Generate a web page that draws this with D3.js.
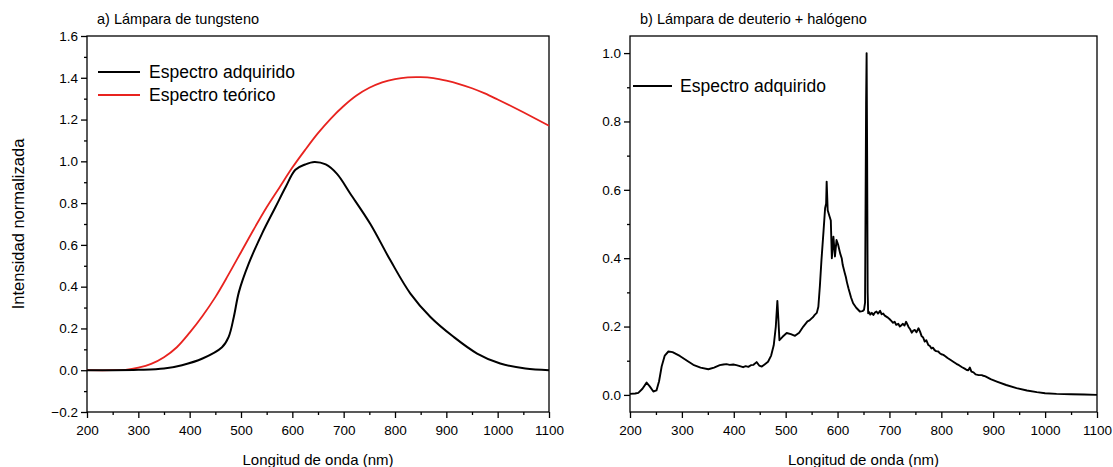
<!DOCTYPE html>
<html>
<head>
<meta charset="utf-8">
<script src="https://cdn.jsdelivr.net/npm/d3@7"></script>
<style>
  body { margin: 0; background: #fff; }
  svg { font-family: "Liberation Sans", Arial, sans-serif; }
  .frame { fill: none; stroke: #000; stroke-width: 1.3; }
  .axis path { display: none; }
  .axis line { stroke: #000; stroke-width: 1.3; }
  .axis text { font-size: 13.5px; fill: #000; }
</style>
</head>
<body>
<script>
const width = 1113, height = 467;

// a) tungsten lamp
const tungX = [200, 250, 300, 350, 385, 425, 463, 476, 486, 496, 515, 541, 567, 587, 606, 625, 643, 665, 687, 713, 752, 791, 830, 869, 914, 960, 1005, 1054, 1100];
const tungY = [0, 0, 0.002, 0.008, 0.024, 0.056, 0.11, 0.16, 0.255, 0.375, 0.51, 0.654, 0.78, 0.877, 0.96, 0.985, 0.997, 0.985, 0.94, 0.845, 0.70, 0.526, 0.367, 0.255, 0.16, 0.08, 0.032, 0.008, 0.0];
const theoX = [200, 250, 275, 300, 325, 350, 375, 400, 425, 450, 475, 500, 525, 550, 575, 600, 625, 650, 675, 700, 725, 750, 775, 800, 825, 850, 875, 900, 925, 950, 975, 1000, 1025, 1050, 1075, 1100];
const theoY = [0, 0, 0.002, 0.012, 0.03, 0.062, 0.11, 0.18, 0.26, 0.35, 0.455, 0.565, 0.675, 0.78, 0.875, 0.97, 1.055, 1.135, 1.205, 1.265, 1.315, 1.352, 1.378, 1.394, 1.402, 1.403, 1.398, 1.386, 1.37, 1.35, 1.325, 1.296, 1.266, 1.235, 1.203, 1.17];

// b) deuterium + halogen lamp
const d2X = [200, 210, 216, 224, 232, 238, 245, 251, 256, 261, 267, 274, 282, 296, 310, 322, 336, 351, 362, 373, 380, 386, 392, 399, 405, 410, 418, 423, 428, 433, 438, 444, 449, 454, 460, 466, 472, 477, 481, 484, 486, 488, 494, 502, 510, 518, 526, 534, 542, 546, 550, 553, 556, 560, 563, 566, 569, 573, 576, 578, 579, 581, 584, 587, 589, 592, 595, 598, 601, 605, 608, 610, 614, 616, 618, 621, 626, 630, 636, 643, 648, 651, 653, 655, 656, 657, 658, 659, 661, 663, 666, 669, 672, 675, 678, 682, 685, 688, 691, 694, 697, 700, 704, 707, 710, 713, 717, 720, 723, 726, 729, 732, 735, 737, 740, 743, 746, 749, 752, 756, 759, 762, 765, 768, 771, 775, 778, 781, 784, 787, 790, 794, 797, 800, 804, 807, 812, 818, 823, 829, 834, 840, 845, 849, 852, 855, 858, 862, 866, 872, 878, 881, 885, 895, 907, 925, 945, 965, 984, 1000, 1022, 1050, 1075, 1100];
const d2Y = [0.003, 0.004, 0.006, 0.018, 0.036, 0.025, 0.010, 0.013, 0.04, 0.083, 0.115, 0.127, 0.125, 0.114, 0.100, 0.088, 0.080, 0.075, 0.080, 0.087, 0.089, 0.090, 0.088, 0.089, 0.087, 0.085, 0.081, 0.084, 0.082, 0.087, 0.088, 0.096, 0.086, 0.083, 0.090, 0.097, 0.115, 0.145, 0.20, 0.275, 0.22, 0.16, 0.17, 0.181, 0.178, 0.173, 0.182, 0.200, 0.215, 0.218, 0.224, 0.228, 0.234, 0.24, 0.258, 0.32, 0.395, 0.48, 0.546, 0.56, 0.624, 0.54, 0.525, 0.51, 0.40, 0.463, 0.405, 0.453, 0.44, 0.414, 0.40, 0.38, 0.356, 0.345, 0.33, 0.312, 0.285, 0.268, 0.255, 0.244, 0.245, 0.249, 0.27, 0.85, 1.0, 0.70, 0.30, 0.239, 0.242, 0.235, 0.240, 0.234, 0.241, 0.244, 0.238, 0.246, 0.236, 0.238, 0.232, 0.229, 0.226, 0.222, 0.216, 0.211, 0.214, 0.205, 0.208, 0.200, 0.204, 0.208, 0.203, 0.214, 0.205, 0.198, 0.192, 0.182, 0.188, 0.190, 0.183, 0.195, 0.185, 0.172, 0.168, 0.156, 0.160, 0.146, 0.143, 0.136, 0.138, 0.131, 0.128, 0.127, 0.122, 0.119, 0.117, 0.114, 0.108, 0.102, 0.097, 0.091, 0.087, 0.081, 0.077, 0.073, 0.072, 0.080, 0.068, 0.066, 0.060, 0.058, 0.058, 0.056, 0.054, 0.046, 0.039, 0.029, 0.020, 0.013, 0.008, 0.005, 0.003, 0.002, 0.001, 0.0];

const xTicks = [200, 300, 400, 500, 600, 700, 800, 900, 1000, 1100];

const svg = d3.select("body").append("svg")
  .attr("width", width)
  .attr("height", height);

function panel(opt) {
  const x = d3.scaleLinear().domain([200, 1100]).range([opt.left, opt.right]);
  const y = d3.scaleLinear().domain(opt.yDomain).range([412, 36]);
  const g = svg.append("g");

  g.append("rect").attr("class", "frame")
    .attr("x", opt.left).attr("y", 36)
    .attr("width", opt.right - opt.left).attr("height", 376);

  // minor ticks
  g.append("g").attr("class", "axis")
    .attr("transform", `translate(0,412)`)
    .call(d3.axisBottom(x).tickValues(d3.range(250, 1100, 100)).tickSize(3).tickFormat(""));
  g.append("g").attr("class", "axis")
    .attr("transform", `translate(${opt.left},0)`)
    .call(d3.axisLeft(y).tickValues(opt.yMinor).tickSize(3).tickFormat(""));

  // major ticks
  g.append("g").attr("class", "axis")
    .attr("transform", `translate(0,412)`)
    .call(d3.axisBottom(x).tickValues(xTicks).tickSize(6).tickPadding(7).tickFormat(d3.format("d")));
  g.append("g").attr("class", "axis")
    .attr("transform", `translate(${opt.left},0)`)
    .call(d3.axisLeft(y).tickValues(opt.yMajor).tickSize(6).tickPadding(3).tickFormat(d3.format(".1f")));

  g.append("text")
    .attr("x", (opt.left + opt.right) / 2).attr("y", 465)
    .attr("text-anchor", "middle").attr("font-size", 15)
    .text("Longitud de onda (nm)");

  g.append("text")
    .attr("x", opt.left + 10).attr("y", 24)
    .attr("font-size", 14.5)
    .text(opt.title);

  return { g, x, y };
}

const a = panel({
  left: 87, right: 549, yDomain: [-0.2, 1.6],
  yMajor: d3.range(-0.2, 1.61, 0.2).map(v => +v.toFixed(1)),
  yMinor: d3.range(-0.1, 1.6, 0.2).map(v => +v.toFixed(1)),
  title: "a) Lámpara de tungsteno"
});

const b = panel({
  left: 630, right: 1097, yDomain: [-0.05, 1.05],
  yMajor: d3.range(0, 1.01, 0.2).map(v => +v.toFixed(1)),
  yMinor: d3.range(0.1, 1.0, 0.2).map(v => +v.toFixed(1)),
  title: "b) Lámpara de deuterio + halógeno"
});

const lineA = d3.line().x(d => a.x(d[0])).y(d => a.y(d[1])).curve(d3.curveCatmullRom.alpha(0.5));
const lineB = d3.line().x(d => b.x(d[0])).y(d => b.y(d[1]));

a.g.append("path").datum(d3.zip(theoX, theoY))
  .attr("d", lineA).attr("fill", "none").attr("stroke", "#e8231f").attr("stroke-width", 1.8);
a.g.append("path").datum(d3.zip(tungX, tungY))
  .attr("d", lineA).attr("fill", "none").attr("stroke", "#000").attr("stroke-width", 2);
b.g.append("path").datum(d3.zip(d2X, d2Y))
  .attr("d", lineB).attr("fill", "none").attr("stroke", "#000").attr("stroke-width", 1.9)
  .attr("stroke-linejoin", "round");

// y-axis title
svg.append("text")
  .attr("transform", "translate(24,224) rotate(-90)")
  .attr("text-anchor", "middle").attr("font-size", 16.5)
  .text("Intensidad normalizada");

// legends
const legA = [["Espectro adquirido", "#000"], ["Espectro teórico", "#e8231f"]];
legA.forEach((d, i) => {
  const yy = 72 + i * 23;
  a.g.append("line").attr("x1", 98).attr("x2", 140).attr("y1", yy).attr("y2", yy)
    .attr("stroke", d[1]).attr("stroke-width", 2);
  a.g.append("text").attr("x", 149).attr("y", yy + 6).attr("font-size", 17.5).text(d[0]);
});
b.g.append("line").attr("x1", 633).attr("x2", 672).attr("y1", 86).attr("y2", 86)
  .attr("stroke", "#000").attr("stroke-width", 1.9);
b.g.append("text").attr("x", 680).attr("y", 92).attr("font-size", 17.5).text("Espectro adquirido");
</script>
</body>
</html>
